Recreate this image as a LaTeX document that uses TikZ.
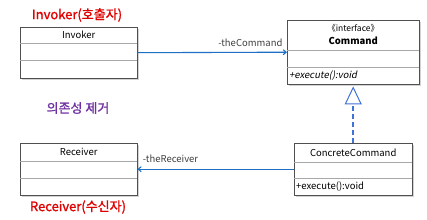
\documentclass[tikz,border=0pt]{standalone}
\usepackage{fontspec}
\setmainfont{Noto Sans CJK KR}
\newfontfamily\slantfont[FakeSlant=0.2]{Noto Sans CJK KR}
\newfontfamily\titlefont[FakeBold=1.3]{Noto Sans CJK KR}
\usetikzlibrary{arrows.meta,positioning,calc,shadows}
\definecolor{assoc}{HTML}{1F6FC5}
\definecolor{realize}{HTML}{3F72D6}
\definecolor{title}{HTML}{E00000}
\definecolor{note}{HTML}{7030A0}
\definecolor{frame}{HTML}{505050}
\definecolor{divider}{HTML}{A8A8A8}
\definecolor{labeltext}{HTML}{404040}

\tikzset{
  classbox/.style={draw=frame, fill=white, anchor=north west, inner sep=0pt,
    drop shadow={shadow xshift=1.5pt, shadow yshift=-1.5pt, opacity=0.35}},
  classname/.style={font=\fontsize{9.5}{11}\selectfont, anchor=center},
  member/.style={font=\fontsize{9.5}{11}\selectfont, anchor=west, inner sep=1pt},
  roletext/.style={font=\fontsize{9.5}{11}\selectfont, text=labeltext, inner sep=1pt},
  titletext/.style={font=\fontsize{13}{15}\titlefont, text=title},
  assocline/.style={draw=assoc, line width=1.1pt, -{Straight Barb[length=3pt,width=5pt]}},
  realizeline/.style={draw=realize, line width=1.5pt, dash pattern=on 5pt off 3pt,
    -{Triangle[open, length=18pt, width=17pt, line width=1pt]}}
}

\begin{document}
\begin{tikzpicture}[x=1pt,y=-1pt]
  \useasboundingbox (0,0) rectangle (427,219);

  % classes
  \node[classbox, minimum width=117pt, minimum height=51pt] (invoker) at (20,27) {};
  \node[classbox, minimum width=132pt, minimum height=64pt] (command) at (287,20) {};
  \node[classbox, minimum width=117pt, minimum height=52pt] (receiver) at (20,143) {};
  \node[classbox, minimum width=118pt, minimum height=52pt] (concrete) at (294,143) {};

  % compartments
  \draw[divider] ($(invoker.north west)+(0,16)$) -- ($(invoker.north east)+(0,16)$);
  \draw[divider] ($(invoker.north west)+(0,33)$) -- ($(invoker.north east)+(0,33)$);
  \draw[divider] ($(command.north west)+(0,30)$) -- ($(command.north east)+(0,30)$);
  \draw[divider] ($(command.north west)+(0,47)$) -- ($(command.north east)+(0,47)$);
  \draw[divider] ($(receiver.north west)+(0,18)$) -- ($(receiver.north east)+(0,18)$);
  \draw[divider] ($(receiver.north west)+(0,35)$) -- ($(receiver.north east)+(0,35)$);
  \draw[divider] ($(concrete.north west)+(0,19)$) -- ($(concrete.north east)+(0,19)$);
  \draw[divider] ($(concrete.north west)+(0,35)$) -- ($(concrete.north east)+(0,35)$);

  % names and operations
  \node[classname] (invokername) at ($(invoker.north)+(0,8)$) {Invoker};
  \node[classname, font=\fontsize{8.5}{10}\selectfont] (stereo) at ($(command.north)+(0,8.5)$) {《interface》};
  \node[classname, font=\fontsize{9.5}{11}\selectfont\bfseries] (commandname) at ($(command.north)+(0,21)$) {Command};
  \node[member, font=\fontsize{9.5}{11}\selectfont\slantfont] (commandop) at ($(command.north west)+(1,56)$) {+execute():void};
  \node[classname] (receivername) at ($(receiver.north)+(0,9)$) {Receiver};
  \node[classname] (concretename) at ($(concrete.north)+(0,9.5)$) {ConcreteCommand};
  \node[member] (concreteop) at ($(concrete.north west)+(1,43.5)$) {+execute():void};

  % connectors
  \draw[assocline] (invoker.east) -- node[roletext, pos=1, above left=4pt and 3pt] {-theCommand} (command.west);
  \draw[assocline] (concrete.west) -- node[roletext, pos=1, above right=5pt and 4pt] {-theReceiver} (receiver.east);
  \draw[realizeline] (concrete.north) -- ($(command.south)+(0,2)$);

  % roles
  \node[titletext] (invokertitle) at (77,15) {Invoker(호출자)};
  \node[titletext] (receivertitle) at (78,207) {Receiver(수신자)};
  \node[titletext, text=note] (decouple) at (78,108) {의존성 제거};
\end{tikzpicture}
\end{document}
